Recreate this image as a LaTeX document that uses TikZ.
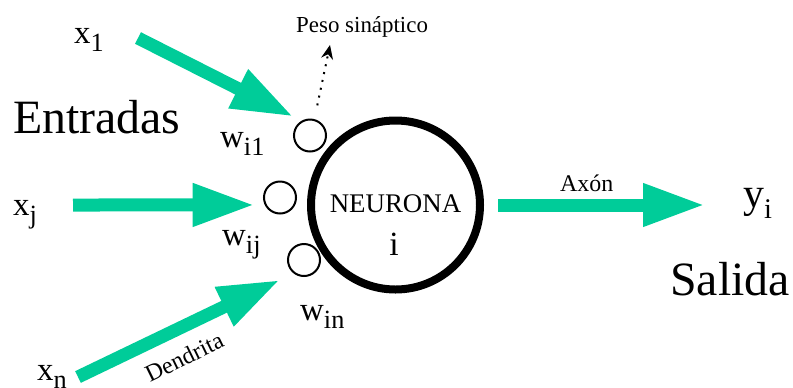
\documentclass[tikz,border=0pt]{standalone}
\usepackage{fontspec}
\setmainfont{Liberation Serif}
\usetikzlibrary{arrows.meta,calc}
\definecolor{neugreen}{RGB}{0,204,153}
\newcommand{\idx}[2][0.8]{\raisebox{-0.27em}{\scalebox{#1}{#2}}}
\tikzset{
  syn/.style={draw, circle, line width=2bp, minimum size=32bp, inner sep=0pt},
  soma/.style={draw, circle, line width=8bp, minimum size=169bp, inner sep=0pt},
  flecha/.style={neugreen, line width=13bp, -{Triangle[length=62bp, width=40bp]}},
  pointer/.style={line width=2bp, dash pattern=on 2bp off 6bp, -{Stealth[length=14bp, width=12bp]}},
  txt/.style={inner sep=0pt, anchor=base west, font=\fontsize{#1}{#1}\selectfont}
}

\begin{document}
\begin{tikzpicture}[x=1bp, y=-1bp]
    \useasboundingbox (0,0) rectangle (793,387);
    \node[soma] (neurona) at (395.5,205) {};
    \node[syn] (w1) at (310,135.5) {};
    \node[syn] (wj) at (280,197.5) {};
    \node[syn] (wn) at (304,260) {};
    \node[txt=27, anchor=base] (nlbl) at (395.5,212) {NEURONA};
    \node[txt=34, anchor=base] (ni) at (394,255) {i};
    \node[txt=48] (entradas) at (13,133) {Entradas};
    \node[txt=48] (salida) at (670,295) {Salida};
    \node[txt=33] (x1) at (74,43) {x\idx{1}};
    \node[txt=33] (xj) at (13,215) {x\idx{j}};
    \node[txt=33] (xn) at (37,380) {x\idx{n}};
    \node[txt=33] (lw1) at (220,147) {w\idx{i1}};
    \node[txt=33] (lwj) at (222,245) {w\idx{ij}};
    \node[txt=33] (lwn) at (300,320) {w\idx{in}};
    \node[txt=42] (yi) at (743,207) {y\idx[0.68]{i}};
    \node[txt=23] (peso) at (296,32) {Peso sináptico};
    \node[txt=24] (axon) at (560,191) {Axón};
    \node[txt=24, rotate=26] (dendrita) at (150,383) {Dendrita};
    \coordinate (t1) at (138,38);
    \coordinate (tj) at (73,205);
    \coordinate (tn) at (78,377);
    \coordinate (ptip) at (330,45);
    \foreach \a/\b/\s in {t1/w1.120/9bp, tj/wj.206/10bp, tn/wn.232/15bp}{\draw[flecha, shorten >=\s] (\a) -- (\b);}
    \draw[flecha, shorten <=14bp, shorten >=38bp] (neurona.east) -- (neurona.east -| yi.west);
    \draw[pointer, shorten <=14bp] (w1.75) -- (ptip);
\end{tikzpicture}
\end{document}
